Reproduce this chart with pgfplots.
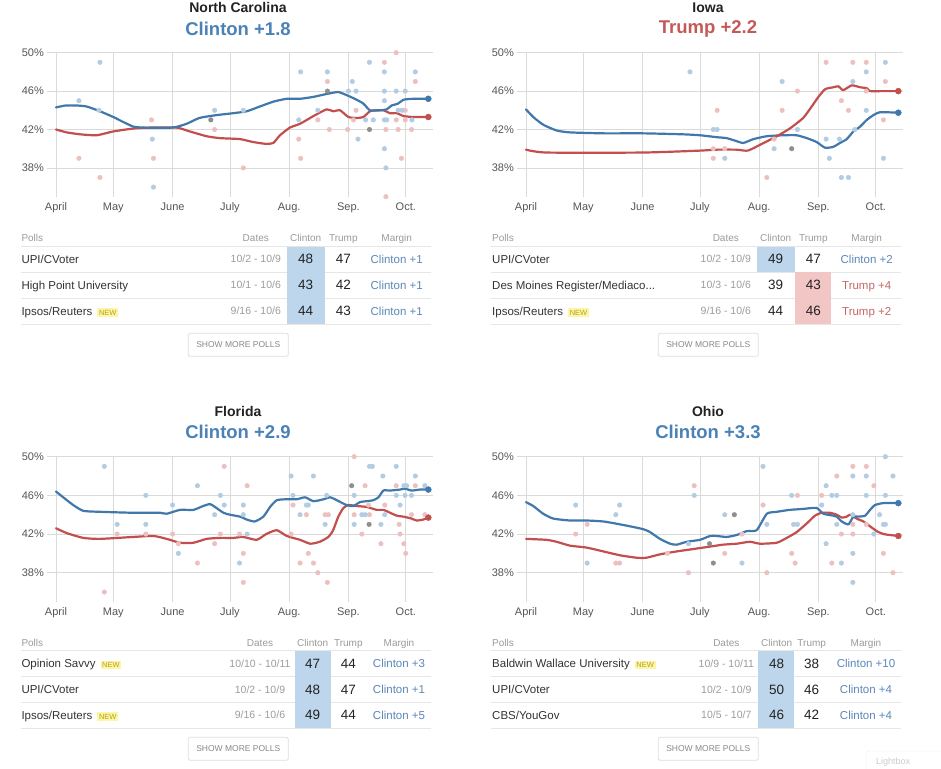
\documentclass[border=0pt]{standalone}
\usepackage{pgfplots}
\pgfplotsset{compat=1.18}
\usepackage{fontspec}
\setmainfont{Liberation Sans}
\usetikzlibrary{calc}
\definecolor{blueLine}{HTML}{4078AC}
\definecolor{redLine}{HTML}{C24F4D}
\definecolor{dotblue}{HTML}{B2CCE3}
\definecolor{dotred}{HTML}{EDC0C0}
\definecolor{dotgrey}{HTML}{8E8E8E}
\definecolor{gridc}{HTML}{DADADA}
\definecolor{tickc}{HTML}{555555}
\definecolor{titleB}{HTML}{4A81B7}
\definecolor{titleR}{HTML}{C45A57}
\definecolor{hlB}{HTML}{BDD6EC}
\definecolor{hlR}{HTML}{F2C6C5}
\definecolor{marB}{HTML}{5B87B8}
\definecolor{marR}{HTML}{C46666}
\definecolor{sepc}{HTML}{E6E6E6}
\definecolor{hdrc}{HTML}{9A9A9A}
\definecolor{namec}{HTML}{333333}
\definecolor{numc}{HTML}{222222}
\definecolor{datec}{HTML}{9C9C9C}
\definecolor{newbg}{HTML}{FCF6A8}
\definecolor{newfg}{HTML}{B9A21E}
\definecolor{btnc}{HTML}{DDDDDD}
\definecolor{btntext}{HTML}{888888}

\pgfplotsset{
  upshot/.style={
    scale only axis, width=386.3pt,
    xmin=-4.7, xmax=197.4, ymin=35, ymax=50,
    clip=false,
    axis line style={draw=none},
    major tick length=0pt,
    xtick={0,30,61,91,122,153,183},
    xticklabels={April,May,June,July,Aug.,Sep.,Oct.},
    ytick={38,42,46,50},
    yticklabels={38\%,42\%,46\%,50\%},
    xmajorgrids, ymajorgrids,
    major grid style={gridc, line width=0.8pt},
    tick label style={font=\fontsize{11}{12}\selectfont, text=tickc},
    yticklabel style={anchor=east, inner sep=0pt, xshift=-3pt},
    xticklabel style={anchor=base, inner sep=0pt, yshift=-14pt},
  },
  dotB/.style={only marks, mark=*, mark size=2.3pt, color=dotblue},
  dotR/.style={only marks, mark=*, mark size=2.3pt, color=dotred},
  dotG/.style={only marks, mark=*, mark size=2.3pt, color=dotgrey},
  lineB/.style={color=blueLine, line width=2.2pt, smooth, tension=0.35, line join=round, line cap=round, mark=none},
  lineR/.style={color=redLine, line width=2.2pt, smooth, tension=0.35, line join=round, line cap=round, mark=none},
  endB/.style={only marks, mark=*, mark size=3pt, color=blueLine},
  endR/.style={only marks, mark=*, mark size=3pt, color=redLine},
}

\tikzset{
  hdr/.style={font=\fontsize{10}{11}\selectfont, text=hdrc, inner sep=0pt},
  namest/.style={font=\fontsize{11.5}{13}\selectfont, text=namec, inner sep=0pt, anchor=base west, yshift=-4.2pt},
  datest/.style={font=\fontsize{10.5}{12}\selectfont, text=datec, inner sep=0pt, anchor=base, yshift=-3.8pt},
  numst/.style={font=\fontsize{13.5}{15}\selectfont, text=numc, inner sep=0pt, anchor=base, yshift=-4.9pt},
  marst/.style={font=\fontsize{11.5}{13}\selectfont, inner sep=0pt, anchor=base, yshift=-4.2pt},
  stt/.style={font=\fontsize{14}{16}\selectfont\bfseries, text=numc, inner sep=0pt},
  sub/.style={font=\fontsize{18.5}{20}\selectfont\bfseries, inner sep=0pt},
}

\newcommand{\NEW}{\hspace{5pt}{\fboxsep=1.6pt\colorbox{newbg}{\fontsize{7.5}{8}\selectfont\color{newfg}NEW}}}
% row: y-center, name, dates, clinton, trump, margin
\newcommand{\prow}[6]{%
  \node[namest] at (\colL,#1) {#2};
  \node[datest] at (\colD,#1) {#3};
  \node[numst] at (\colC,#1) {#4};
  \node[numst] at (\colT,#1) {#5};
  \node[marst] at (\colM,#1) {#6};
}
\newcommand{\phead}[1]{%
  \node[hdr, anchor=base west, yshift=-3.6pt] at (\colL,#1) {Polls};
  \node[hdr, anchor=base, yshift=-3.6pt] at (\colD,#1) {Dates};
  \node[hdr, anchor=base, yshift=-3.6pt] at (\colC,#1) {Clinton};
  \node[hdr, anchor=base, yshift=-3.6pt] at (\colT,#1) {Trump};
  \node[hdr, anchor=base, yshift=-3.6pt] at (\colM,#1) {Margin};
}
\newcommand{\seps}[6]{% xl, xr, y1..y4
  \foreach \yy in {#3,#4,#5,#6} {\draw[sepc, line width=0.8pt] (#1,\yy) -- (#2,\yy);}
}
\newcommand{\button}[2]{% left x, top y
  \draw[btnc, line width=0.8pt, rounded corners=1.5pt] (#1,#2) rectangle ++(100,23);
  \node[font=\fontsize{8.5}{9}\selectfont, text=btntext, inner sep=0pt] at ($(#1,#2)+(50,11.7)$) {SHOW MORE POLLS};
}

\begin{document}
\begin{tikzpicture}[x=1pt,y=-1pt]
\useasboundingbox (0,0) rectangle (941,768);

% ================= North Carolina =================
\node[stt] at (238,7.5) {North Carolina};
\node[sub, text=titleB] at (238,29) {Clinton +1.8};
\begin{axis}[upshot, height=144pt, at={(47pt,-196.7pt)}, anchor=south west]
\addplot[dotR] coordinates {(12,39)(23,37)(50,43)(51,39)(83,42)(98,38)(127,41)(128,39)(137,43)(142,47)(143,42)(152.6,42)(157,44)(155.6,43)(171.8,49)(178,50)(172.6,42)(172.6,35)(179,42)(180.7,39)(182.7,44)(182.7,43)(186,42)(188,47)(178,43)};
\addplot[dotB] coordinates {(12,45)(23,49)(22.5,44)(50.4,41)(51,36)(83,44)(98,44)(128,48)(127,43)(137,44)(142,48)(155,47)(153,46)(157,46)(158,41)(164,49)(162,43)(166,43)(171.8,48)(171.8,46)(171.8,45)(171.8,43)(173,43)(171.8,40)(172.6,38)(178,46)(182.7,46)(179,44)(181,44)(186.2,43)(188,48)};
\addplot[dotG] coordinates {(81,43)(142,46)(164,42)};
\addplot[lineR] coordinates {(0,42.0)(5.6,41.7)(12.6,41.5)(21.3,41.4)(30,41.8)(40.5,42.1)(49,42.2)(63,42.2)(70,41.8)(78.8,41.3)(85.8,41.1)(96.3,41.0)(103,40.7)(110,40.5)(113.7,40.6)(117.2,41.4)(122.4,42.2)(127.7,42.6)(134.7,43.4)(141.6,44.1)(145,43.9)(148.6,44.0)(153,43.3)(157.3,43.2)(160.8,43.3)(164.3,43.9)(167.8,44.0)(171.3,44.0)(174.8,43.7)(178.3,43.7)(181.8,43.4)(187,43.3)(194.8,43.3)};
\addplot[lineB] coordinates {(0,44.3)(5,44.5)(10.8,44.5)(16,44.4)(23,43.9)(30,43.3)(35,42.8)(40.5,42.3)(45.7,42.2)(61,42.2)(68.4,42.6)(75,43.2)(84,43.5)(92.8,43.7)(99.8,43.9)(106.7,44.4)(113.7,44.9)(120.7,45.2)(127.7,45.2)(134.7,45.4)(141.6,45.7)(147.7,45.9)(153,45.5)(157.3,45.1)(160.8,44.7)(164.3,44.0)(169.5,44.0)(173,44.1)(175.6,44.5)(179,44.7)(181.8,45.1)(187,45.2)(194.8,45.2)};
\addplot[endR] coordinates {(194.8,43.3)};
\addplot[endB] coordinates {(194.8,45.2)};
\end{axis}

% ================= Iowa =================
\node[stt] at (708,7.5) {Iowa};
\node[sub, text=titleR] at (708,29) {Trump +2.2};
\begin{axis}[upshot, height=144pt, at={(517pt,-196.7pt)}, anchor=south west]
\addplot[dotR] coordinates {(100,44)(98,40)(98,39)(104,40)(126,37)(129.8,41)(134,44)(142,46)(157,49)(165,45)(168.7,44)(171,49)(178,49)(178,46)(188,47)(187,43)};
\addplot[dotB] coordinates {(85.8,48)(98,42)(100,42)(104,39)(129.8,40)(134,47)(142,42)(157,41)(158.7,39)(164,41)(165,37)(168.7,37)(171,47)(172,42)(178,48)(178,44)(188,49)(187,39)};
\addplot[dotG] coordinates {(139,40)};
\addplot[lineB] coordinates {(0,44.1)(3.8,43.3)(9,42.5)(16,41.9)(23,41.7)(40.5,41.6)(61,41.6)(82,41.5)(91,41.4)(99.8,41.2)(105,41.1)(110,40.8)(113.7,40.6)(119,41.0)(126,41.3)(134.7,41.4)(141.6,41.4)(146.9,41.1)(152,40.7)(156.5,40.1)(160.8,40.2)(164.3,40.6)(167.8,41.0)(171.3,41.8)(174.8,42.3)(178.3,43.0)(181.8,43.5)(185.2,43.8)(194.8,43.75)};
\addplot[lineR] coordinates {(0,39.9)(10.8,39.6)(61,39.6)(91,39.8)(99.8,39.9)(110,39.9)(116,39.8)(122.4,40.4)(131.2,41.3)(138,42.1)(145,43.2)(149.5,44.4)(153,45.4)(156.5,46.2)(160.8,46.4)(163.4,46.5)(166,46.1)(170.4,46.6)(174.8,46.4)(178.3,46.3)(180,46.0)(187,46.0)(194.8,46.0)};
\addplot[endB] coordinates {(194.8,43.75)};
\addplot[endR] coordinates {(194.8,46.0)};
\end{axis}

% ================= Florida =================
\node[stt] at (238,411) {Florida};
\node[sub, text=titleB] at (238,432) {Clinton +2.9};
\begin{axis}[upshot, height=145pt, at={(47pt,-601.7pt)}, anchor=south west]
\addplot[dotR] coordinates {(25.3,36)(32,42)(47,42)(61,42)(64,41)(74,39)(83,41)(86,42)(88,49)(96,42)(98,40)(98,37)(100,47)(123,42)(124,45)(127.7,39)(131,44)(132,40)(134.7,39)(137,38)(140.8,44)(142.5,44)(142,37)(156,50)(156,44)(160,42)(161.7,47)(163.5,45)(164,44)(170,41)(172,45)(178,47)(179.5,43)(180,42)(182,41)(183,40)(186,44)(188,47)(193,44)};
\addplot[dotB] coordinates {(25.3,49)(32,43)(47,46)(47,43)(61,45)(64,40)(74,47)(83,44)(86,46)(88,45)(96,39)(98,45)(98,44)(100,42)(123,48)(124,46)(127.7,44)(131,45)(132,45)(134.7,48)(141.6,46)(140.8,43)(156,46)(156,43)(160,44)(161.7,44)(164,49)(165.5,49)(170,43)(171,48)(172,44)(178,49)(178,46)(180,45)(182,47)(183.5,47)(182.6,46)(186,46)(188,48)(193,47)};
\addplot[dotG] coordinates {(154.7,47)(163.8,43)};
\addplot[lineR] coordinates {(0,42.6)(5.6,42.1)(14.3,41.6)(23,41.5)(40.5,41.7)(51,41.8)(57.9,41.5)(64.9,41.1)(71.9,41.1)(78.8,41.5)(85.8,41.6)(92.8,41.6)(98,41.7)(105,41.4)(110,42.0)(115.5,42.4)(120.7,41.8)(127.7,41.4)(133,41.0)(138,41.2)(142.5,41.7)(145,42.4)(147.7,43.8)(150.4,44.7)(153,45.0)(157.3,44.9)(162.6,44.8)(167.8,44.5)(171.3,44.5)(174.8,44.2)(178.3,43.9)(181.8,43.8)(186,43.6)(188.7,43.4)(192.2,43.5)(194.8,43.7)};
\addplot[lineB] coordinates {(0,46.4)(3.8,45.8)(9,45.0)(14.3,44.4)(23,44.3)(40.5,44.2)(54.4,44.2)(57.9,44.1)(64.9,44.5)(71.9,44.5)(77,44.9)(80.6,45.1)(83.2,44.8)(87.6,44.2)(91,44.0)(96.3,43.8)(99.8,43.5)(104,43.3)(108.5,43.8)(112,44.8)(115.5,45.5)(120.7,45.6)(126,45.6)(130.3,45.8)(134.7,45.4)(140,45.6)(143.4,45.8)(146.9,45.5)(152,45.0)(155.6,44.9)(159,45.3)(162.6,45.4)(166,45.5)(168.7,45.8)(171.3,46.5)(174.8,46.5)(180,46.6)(182.6,46.7)(186,46.5)(190.4,46.6)(194.8,46.6)};
\addplot[endR] coordinates {(194.8,43.7)};
\addplot[endB] coordinates {(194.8,46.6)};
\end{axis}

% ================= Ohio =================
\node[stt] at (708,411) {Ohio};
\node[sub, text=titleB] at (708,432) {Clinton +3.3};
\begin{axis}[upshot, height=145pt, at={(517pt,-601.7pt)}, anchor=south west]
\addplot[dotR] coordinates {(26,42)(32,43)(47,39)(49,39)(74,40)(85,38)(88,47)(104,40)(113,42)(124,45)(126,38)(139,40)(140.8,39)(142,46)(154.7,46)(160,39)(162.6,48)(165,42)(171,49)(171,43)(171,42)(178,49)(178,43)(182,47)(187,40)(192,38)};
\addplot[dotB] coordinates {(26,45)(32,39)(47,44)(49,45)(85,41)(88,46)(104,44)(113,39)(124,49)(126,43)(139,46)(140,43)(142,43)(154.7,45)(157,47)(157,41)(160,46)(162.6,46)(162.6,43)(165,39)(171,48)(171,44)(171,40)(171,37)(178,48)(178,46)(182,42)(185,44)(187,43)(188,43)(188,46)(188,50)(192,48)};
\addplot[dotG] coordinates {(96,41)(98,39)(109,44)};
\addplot[lineR] coordinates {(0,41.5)(10.8,41.4)(16,41.2)(23,40.8)(31.7,40.6)(40.5,40.2)(49.2,39.8)(57.9,39.55)(63,39.55)(70.1,39.9)(78.8,40.2)(89.3,40.5)(96.3,40.7)(103,40.9)(110.2,41.0)(117.2,41.2)(122.4,41.0)(131.2,41.1)(136.4,41.6)(141.6,42.2)(146.9,43.1)(151.2,43.9)(154.7,44.2)(159,44.2)(162.6,44.0)(165.2,43.7)(167.8,43.8)(169.6,44.0)(173,43.6)(176.5,43.3)(180,42.8)(183.5,42.3)(187,42.0)(190.4,41.9)(194.8,41.8)};
\addplot[lineB] coordinates {(0,45.3)(3.8,44.9)(9,44.1)(14.3,43.6)(23,43.4)(31.7,43.4)(40.5,43.3)(49.2,43.0)(54.4,42.8)(61.4,42.5)(64.9,42.2)(70.1,41.5)(75.4,41.0)(78.8,40.9)(84.1,41.2)(91,41.4)(96.3,41.8)(99.8,41.8)(105,41.7)(110.2,41.9)(115.5,42.3)(120.7,42.4)(126,44.1)(131.2,44.3)(138,44.5)(145,44.6)(152,44.7)(155.6,44.1)(160.8,43.9)(162.6,43.8)(165.2,43.3)(168.7,43.0)(171.3,43.8)(173.9,43.8)(177.4,43.9)(180,44.5)(182.6,45.0)(187,45.2)(194.8,45.2)};
\addplot[endR] coordinates {(194.8,41.8)};
\addplot[endB] coordinates {(194.8,45.2)};
\end{axis}

% ================= Tables =================
% NC
\def\colL{21.3}\def\colD{255.8}\def\colC{305.7}\def\colT{343.3}\def\colM{396.7}
\seps{20.7}{430.7}{246.7}{272.3}{298.3}{324}
\fill[hlB] (286.7,246.7) rectangle (325,324);
\phead{238.3}
\prow{258.8}{UPI/CVoter}{10/2 - 10/9}{48}{47}{\color{marB}Clinton +1}
\prow{285}{High Point University}{10/1 - 10/6}{43}{42}{\color{marB}Clinton +1}
\prow{311}{Ipsos/Reuters\NEW}{9/16 - 10/6}{44}{43}{\color{marB}Clinton +1}
\button{188.3}{333.3}

% Iowa
\def\colL{492}\def\colD{725.8}\def\colC{775.7}\def\colT{813.3}\def\colM{866.7}
\seps{490.7}{900.7}{246.7}{272.3}{298.3}{324}
\fill[hlB] (756.7,246.7) rectangle (795,272.3);
\fill[hlR] (795,272.3) rectangle (830.7,324);
\phead{238.3}
\prow{258.8}{UPI/CVoter}{10/2 - 10/9}{49}{47}{\color{marB}Clinton +2}
\prow{285}{Des Moines Register/Mediaco...}{10/3 - 10/6}{39}{43}{\color{marR}Trump +4}
\prow{311}{Ipsos/Reuters\NEW}{9/16 - 10/6}{44}{46}{\color{marR}Trump +2}
\button{658.3}{333.3}

% Florida
\def\colL{21.3}\def\colD{260}\def\colC{312.7}\def\colT{348.3}\def\colM{399}
\seps{20.7}{430.7}{650.7}{676.7}{702.3}{728.3}
\fill[hlB] (295,650.7) rectangle (331,728.3);
\phead{642.7}
\prow{663.5}{Opinion Savvy\NEW}{10/10 - 10/11}{47}{44}{\color{marB}Clinton +3}
\prow{689.3}{UPI/CVoter}{10/2 - 10/9}{48}{47}{\color{marB}Clinton +1}
\prow{715}{Ipsos/Reuters\NEW}{9/16 - 10/6}{49}{44}{\color{marB}Clinton +5}
\button{188.3}{737.3}

% Ohio
\def\colL{492}\def\colD{726.3}\def\colC{776.7}\def\colT{811.7}\def\colM{866}
\seps{490.7}{900.7}{650.7}{676.7}{702.3}{728.3}
\fill[hlB] (758,650.7) rectangle (794,728.3);
\phead{642.7}
\prow{663.5}{Baldwin Wallace University\NEW}{10/9 - 10/11}{48}{38}{\color{marB}Clinton +10}
\prow{689.3}{UPI/CVoter}{10/2 - 10/9}{50}{46}{\color{marB}Clinton +4}
\prow{715}{CBS/YouGov}{10/5 - 10/7}{46}{42}{\color{marB}Clinton +4}
\button{658.3}{737.3}

% faint lightbox tab at the corner
\begin{scope}
\clip (0,0) rectangle (941,768);
\draw[draw=gray!15, fill=white, rounded corners=2pt] (866.7,751) rectangle (960,790);
\node[font=\fontsize{9}{10}\selectfont, text=gray!40, anchor=base west, inner sep=0pt] at (876,764) {Lightbox};
\end{scope}
\end{tikzpicture}
\end{document}
